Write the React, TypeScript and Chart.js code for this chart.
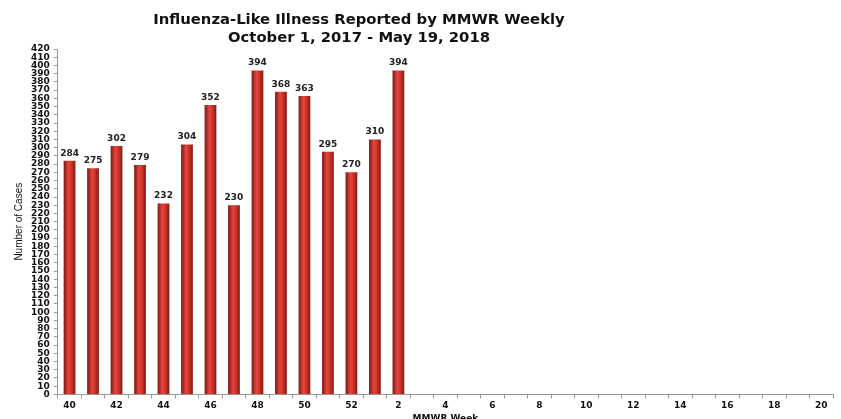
import React, { useEffect, useRef } from "react";
import { Chart, registerables } from "chart.js";

Chart.register(...registerables);

const weeks = [
  "40", "41", "42", "43", "44", "45", "46", "47", "48", "49", "50", "51", "52",
  "1", "2", "3", "4", "5", "6", "7", "8", "9", "10", "11", "12", "13", "14", "15", "16", "17", "18", "19", "20",
];
const cases: (number | null)[] = [
  284, 275, 302, 279, 232, 304, 352, 230, 394, 368, 363, 295, 270, 310, 394,
  null, null, null, null, null, null, null, null, null, null, null, null, null, null, null, null, null, null,
];
const titleLines = ["Influenza-Like Illness Reported by MMWR Weekly", "October 1, 2017 - May 19, 2018"];
const yMax = 420;
const yStep = 10;

const BAR_PCT = 0.5;

const titlePlugin = {
  id: "customTitle",
  afterDraw(chart: any) {
    const ctx = chart.ctx;
    ctx.save();
    ctx.font = "bold 14.8px 'DejaVu Sans', Verdana, sans-serif";
    ctx.fillStyle = "#111";
    ctx.textAlign = "center";
    ctx.textBaseline = "middle";
    ctx.fillText(titleLines[0], 359, 20.5);
    ctx.fillText(titleLines[1], 359, 38);
    ctx.restore();
  },
};

const valueLabels = {
  id: "valueLabels",
  afterDatasetsDraw(chart: any) {
    const ctx = chart.ctx;
    const meta = chart.getDatasetMeta(0);
    ctx.save();
    ctx.font = "bold 9px 'DejaVu Sans', Verdana, sans-serif";
    ctx.fillStyle = "#222";
    ctx.textAlign = "center";
    ctx.textBaseline = "bottom";
    meta.data.forEach((el: any, i: number) => {
      const v = cases[i];
      if (v == null) return;
      ctx.fillText(String(v), el.x, el.y - 3);
    });
    ctx.restore();
  },
};

export default function App() {
  const ref = useRef<HTMLCanvasElement>(null);
  useEffect(() => {
    document.body.style.margin = "0";
    const chart = new Chart(ref.current!, {
      type: "bar",
      data: {
        labels: weeks,
        datasets: [
          {
            data: cases as any,
            backgroundColor: (c: any) => {
              const chart = c.chart;
              const xs = chart.scales?.x;
              if (!chart.chartArea || !xs || c.dataIndex == null) return "#c0302c";
              const x = xs.getPixelForValue(c.dataIndex);
              const w = (xs.width / weeks.length) * BAR_PCT;
              const g = chart.ctx.createLinearGradient(x - w / 2, 0, x + w / 2, 0);
              g.addColorStop(0, "#7e1613");
              g.addColorStop(0.4, "#e2453d");
              g.addColorStop(0.6, "#d8392f");
              g.addColorStop(1, "#85180f");
              return g;
            },
            borderWidth: 0,
            barPercentage: BAR_PCT,
            categoryPercentage: 1,
          },
        ],
      },
      options: {
        responsive: false,
        animation: false,
        layout: { padding: { top: 49, right: 8, left: 13, bottom: -5 } },
        plugins: {
          legend: { display: false },
          title: { display: false },
          tooltip: { enabled: false },
        },
        scales: {
          x: {
            grid: {
              display: true,
              offset: true,
              drawOnChartArea: false,
              tickLength: 4,
              color: "#999",
            },
            border: { color: "#999" },
            ticks: {
              autoSkip: false,
              maxRotation: 0,
              padding: 2,
              color: "#111",
              font: { family: "'DejaVu Sans', Verdana, sans-serif", size: 9, weight: "bold" },
              callback: (_v: any, i: number) => (i % 2 === 0 ? weeks[i] : ""),
            },
            title: {
              display: true,
              text: "MMWR Week",
              color: "#111",
              padding: { top: 0, bottom: 0 },
              font: { family: "'DejaVu Sans', Verdana, sans-serif", size: 9, weight: "bold" },
            },
          },
          y: {
            min: 0,
            max: yMax,
            grid: {
              display: true,
              drawOnChartArea: false,
              tickLength: 4,
              color: "#999",
            },
            border: { color: "#999" },
            ticks: {
              stepSize: yStep,
              autoSkip: false,
              padding: 4,
              color: "#111",
              font: { family: "'DejaVu Sans', Verdana, sans-serif", size: 9, weight: "bold" },
            },
            title: {
              display: true,
              text: "Number of Cases",
              color: "#111",
              padding: { top: 0, bottom: 2 },
              font: { family: "'Liberation Sans Narrow', 'Liberation Sans', sans-serif", size: 10 },
            },
          },
        },
      },
      plugins: [titlePlugin, valueLabels],
    });
    return () => chart.destroy();
  }, []);
  return (
    <div style={{ width: 841, height: 419, background: "#fff" }}>
      <canvas ref={ref} width={841} height={419} />
    </div>
  );
}
